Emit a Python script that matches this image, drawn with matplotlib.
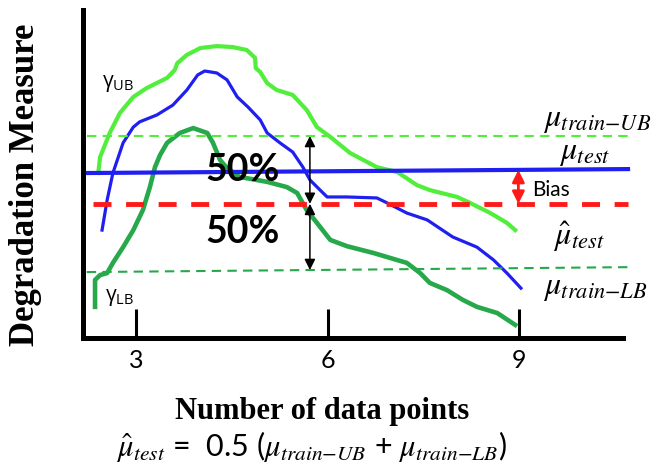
import matplotlib
matplotlib.use("Agg")
import matplotlib.pyplot as plt

plt.rcParams['mathtext.fontset'] = 'custom'
plt.rcParams['mathtext.rm'] = 'Open Sans'
plt.rcParams['mathtext.it'] = 'Open Sans:italic'

# bounding curves and their mean, sampled along the number of data points
ub_x = [2.40, 2.43, 2.58, 2.74, 2.95, 3.16, 3.48, 3.60, 3.64, 3.79, 4.00, 4.26, 4.51,
        4.73, 4.86, 4.87, 4.94, 5.05, 5.20, 5.45, 5.67, 5.83, 6.04, 6.35, 6.77, 7.09,
        7.40, 7.60, 8.03, 8.23, 8.55, 8.81, 8.94]
ub_y = [5.03, 5.52, 6.25, 6.86, 7.35, 7.62, 7.93, 8.17, 8.38, 8.63, 8.84, 8.90, 8.87,
        8.78, 8.54, 8.23, 8.11, 7.77, 7.56, 7.41, 6.95, 6.43, 6.13, 5.64, 5.21, 5.06,
        4.66, 4.51, 4.30, 4.12, 3.81, 3.51, 3.29]

mid_x = [2.46, 2.54, 2.63, 2.79, 2.95, 3.05, 3.32, 3.57, 3.79, 3.96, 4.07, 4.26, 4.42,
         4.58, 4.75, 4.94, 5.05, 5.25, 5.45, 5.61, 5.72, 5.88, 5.99, 6.30, 6.77, 6.93,
         7.24, 7.56, 7.96, 8.34, 8.60, 8.81, 9.03]
mid_y = [3.29, 4.21, 5.03, 5.95, 6.43, 6.59, 6.80, 7.10, 7.56, 8.02, 8.14, 8.08, 7.87,
         7.35, 7.04, 6.65, 6.25, 5.95, 5.67, 5.21, 4.82, 4.51, 4.30, 4.30, 4.27, 4.12,
         3.81, 3.60, 3.08, 2.77, 2.38, 1.98, 1.52]

lb_x = [2.35, 2.35, 2.43, 2.54, 2.63, 2.79, 2.95, 3.10, 3.21, 3.29, 3.37, 3.48, 3.68,
        3.89, 4.11, 4.20, 4.31, 4.42, 4.62, 5.05, 5.36, 5.52, 5.67, 5.83, 6.04, 6.30,
        6.72, 7.24, 7.45, 7.60, 7.87, 8.12, 8.34, 8.66, 8.94]
lb_y = [0.95, 1.77, 1.92, 1.98, 2.29, 2.77, 3.29, 3.90, 4.60, 5.21, 5.58, 5.95, 6.25,
        6.40, 6.25, 5.95, 5.43, 5.18, 4.91, 4.76, 4.60, 4.42, 3.90, 3.51, 2.99, 2.80,
        2.59, 2.29, 1.98, 1.68, 1.46, 1.16, 0.95, 0.76, 0.40]

# reference levels (start, end)
level_x = [2.22, 10.71]
mu_train_ub = [6.16, 6.16]
mu_test = [5.03, 5.15]
mu_test_hat = [4.09, 4.09]
mu_train_lb = [2.01, 2.16]

split_x = 5.72
bias_x = 8.99

xticks = [3, 6, 9]

fig = plt.figure(figsize=(6.59, 4.72), dpi=100)
ax = fig.add_axes([83/659, 134/472, 540/659, 328/472])
ax.set_xlim(2.161, 10.631)
ax.set_ylim(0, 10)

ax.plot(ub_x, ub_y, color='#52ee3c', lw=3.0)
ax.plot(mid_x, mid_y, color='#1f1ff0', lw=2.3)
ax.plot(lb_x, lb_y, color='#27a84a', lw=3.3)

ax.plot(level_x, mu_train_ub, color='#52ee3c', lw=1.5, dashes=(4.5, 3), clip_on=False)
ax.plot([2.24, level_x[1]], mu_test, color='#1f1ff0', lw=3.0, clip_on=False)
ax.plot([2.32, level_x[1]], mu_test_hat, color='#ff1a1a', lw=3.5, dashes=(3.7, 3.0), clip_on=False)
ax.plot(level_x, mu_train_lb, color='#27a84a', lw=1.5, dashes=(4.5, 3), clip_on=False)

# 50 % / 50 % split arrows
lb_at_split = mu_train_lb[0] + (split_x - level_x[0]) / (level_x[1] - level_x[0]) * (mu_train_lb[1] - mu_train_lb[0])
for y0, y1 in [(mu_train_ub[0], mu_test_hat[0]), (mu_test_hat[0], lb_at_split)]:
    ax.annotate('', xy=(split_x, y0), xytext=(split_x, y1),
                arrowprops=dict(arrowstyle='<|-|>', color='k', lw=1.1,
                                mutation_scale=16, shrinkA=0, shrinkB=0))

test_at_bias = mu_test[0] + (bias_x - 2.24) / (level_x[1] - 2.24) * (mu_test[1] - mu_test[0])
ax.annotate('', xy=(bias_x, test_at_bias), xytext=(bias_x, mu_test_hat[0]),
            arrowprops=dict(arrowstyle='<|-|>', color='#ff1a1a', lw=2,
                            mutation_scale=18, shrinkA=0, shrinkB=0))

ax.text(4.67, 5.12, '50%', fontsize=27, fontweight='bold', family='Lato', ha='center', va='center')
ax.text(4.67, 3.23, '50%', fontsize=27, fontweight='bold', family='Lato', ha='center', va='center')

ax.text(2.46, 7.77, r'$\mathrm{γ}_{\mathrm{UB}}$', fontsize=15, math_fontfamily='custom', va='center')
ax.text(2.51, 1.25, r'$\mathrm{γ}_{\mathrm{LB}}$', fontsize=15, math_fontfamily='custom', va='center')

ax.text(9.38, 6.65, r'$\mu_{train{-}UB}$', fontsize=23, math_fontfamily='stix', va='center', clip_on=False)
ax.text(9.62, 5.66, r'$\mu_{test}$', fontsize=23, math_fontfamily='stix', va='center', clip_on=False)
ax.text(9.20, 4.51, 'Bias', fontsize=15, family='Lato', va='center', clip_on=False)
ax.text(9.53, 3.08, r'$\hat{\mu}_{test}$', fontsize=23, math_fontfamily='stix', va='center', clip_on=False)
ax.text(9.38, 1.55, r'$\mu_{train{-}LB}$', fontsize=23, math_fontfamily='stix', va='center', clip_on=False)

for side in ['top', 'right']:
    ax.spines[side].set_visible(False)
ax.spines['left'].set_linewidth(3.6)
ax.spines['bottom'].set_linewidth(3.6)
ax.set_yticks([])
ax.set_xticks(xticks)
ax.set_xticklabels([str(t) for t in xticks], family='Lato', fontsize=18)
ax.tick_params(axis='x', direction='in', length=21, width=2.2, pad=8)

ax.set_xlabel('Number of data points', family='Liberation Serif', fontweight='bold', fontsize=22)
ax.xaxis.set_label_coords((322 - 83) / 540, -(397 - 338) / 328)
ax.set_ylabel('Degradation Measure', family='Liberation Serif', fontweight='bold', fontsize=25)
ax.yaxis.set_label_coords(-(83 - 42) / 540, (338 - 185) / 328)

fig.text(311/659, 1 - 447/472,
         r'$\hat{\mu}_{test}$ =  0.5 ($\mu_{train{-}UB}$ + $\mu_{train{-}LB}$)',
         family='Lato', fontsize=22, math_fontfamily='stix', ha='center', va='center')

fig.savefig('out.png', dpi=100)
